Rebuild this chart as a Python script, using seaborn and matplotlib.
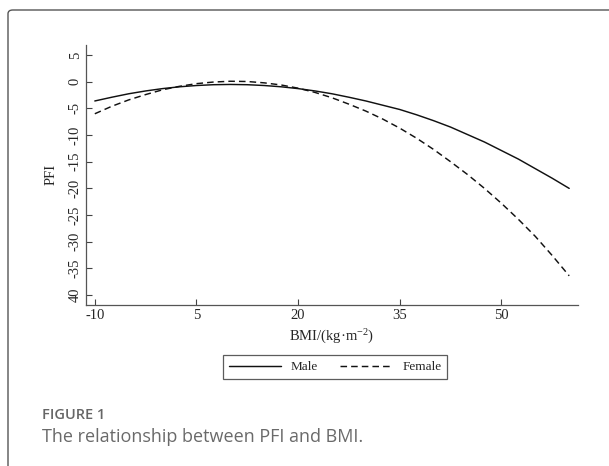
import matplotlib
matplotlib.use("Agg")
import matplotlib.pyplot as plt
from matplotlib.patches import FancyBboxPatch
import seaborn as sns
import pandas as pd

# ---- data ----
bmi = [-10, -7.5, -5, -2.5, 0, 2.5, 5, 7.5, 10, 12.5, 15, 17.5, 20, 22.5, 25, 27.5,
       30, 32.5, 35, 37.5, 40, 42.5, 45, 47.5, 50, 52.5, 55, 57.5, 60]
pfi_male = [-3.6, -2.9, -2.25, -1.72, -1.28, -0.94, -0.7, -0.55, -0.5, -0.55, -0.7, -0.94,
            -1.28, -1.72, -2.25, -2.9, -3.6, -4.4, -5.2, -6.2, -7.3, -8.5, -9.9, -11.3,
            -12.9, -14.5, -16.3, -18.1, -20.0]
pfi_female = [-6.0, -4.6, -3.4, -2.4, -1.5, -0.85, -0.35, -0.05, 0.1, 0.05, -0.2, -0.6,
              -1.2, -2.0, -3.0, -4.2, -5.5, -7.0, -8.7, -10.6, -12.7, -15.0, -17.4, -20.0,
              -22.8, -25.8, -29.0, -32.6, -36.4]
series_names = ["Male", "Female"]
x_ticks = [-10, 5, 20, 35, 50]
y_ticks = [5, 0, -5, -10, -15, -20, -25, -30, -35, -40]
y_tick_labels = ["5", "0", "-5", "-10", "-15", "-20", "-25", "-30", "-35", "40"]
x_label = "BMI/(kg·m$^{-2}$)"
y_label = "PFI"
fig_label = "FIGURE 1"
caption = "The relationship between PFI and BMI."

df = pd.concat([
    pd.DataFrame({"BMI": bmi, "PFI": pfi_male, "Sex": series_names[0]}),
    pd.DataFrame({"BMI": bmi, "PFI": pfi_female, "Sex": series_names[1]}),
])

sns.set_style("white")
plt.rcParams["font.family"] = ["Liberation Serif", "DejaVu Serif"]
plt.rcParams["mathtext.fontset"] = "custom"
plt.rcParams["mathtext.rm"] = "Liberation Serif"
plt.rcParams["mathtext.default"] = "regular"

W, H = 609, 466
fig = plt.figure(figsize=(W / 100, H / 100), dpi=100)
ax = fig.add_axes([86 / W, 1 - 304.6 / H, (578 - 86) / W, (304.6 - 45) / H])

sns.lineplot(data=df, x="BMI", y="PFI", style="Sex", style_order=series_names,
             dashes={"Male": "", "Female": (4.5, 2.8)}, color="#111111",
             linewidth=1.05, ax=ax, legend=True)

ax.set_xlim(-11.3, 61.3)
ax.set_ylim(-41.8, 6.9)
ax.set_xticks(x_ticks)
ax.set_xticklabels([str(t) for t in x_ticks], fontsize=10.5)
ax.set_yticks(y_ticks)
ax.set_yticklabels(y_tick_labels, fontsize=10.5, rotation=90, va="center")
ax.tick_params(axis="both", direction="in", length=4, width=0.8, color="#444444",
               left=True, bottom=True)
ax.tick_params(axis="y", pad=3)
ax.tick_params(axis="x", pad=3)
for s in ["top", "right"]:
    ax.spines[s].set_visible(False)
for s in ["left", "bottom"]:
    ax.spines[s].set_color("#555555")
    ax.spines[s].set_linewidth(0.9)
ax.set_xlabel(x_label, fontsize=10.5, labelpad=4)
ax.set_ylabel(y_label, fontsize=10.5, labelpad=8)

handles, labels = ax.get_legend_handles_labels()
ax.get_legend().remove()
leg = fig.legend(handles, labels, loc="upper center", bbox_to_anchor=(335 / W, 1 - 355 / H),
                 ncol=2, fontsize=9.5, frameon=True, fancybox=False, handlelength=4.0,
                 handletextpad=0.7, columnspacing=1.7, borderpad=0.45, borderaxespad=0)
leg.get_frame().set_edgecolor("#333333")
leg.get_frame().set_linewidth(0.9)
for h in leg.get_lines():
    h.set_linewidth(1.05)

# caption
fig.text(42 / W, 1 - 419 / H, fig_label, fontsize=10.5, color="#666666", fontweight="semibold",
         family=["Open Sans", "DejaVu Sans"], va="baseline", ha="left")
fig.text(42 / W, 1 - 442 / H, caption, fontsize=13, color="#6a6a6a",
         family=["Open Sans", "DejaVu Sans"], va="baseline", ha="left")

# outer frame (open to right and bottom as in the cropped reference)
box = FancyBboxPatch((8 / W, -0.2), 1.2, 1 - 10 / H + 0.2,
                     boxstyle="round,pad=0,rounding_size=0.008",
                     transform=fig.transFigure, fill=False, edgecolor="#555555",
                     linewidth=1.0, clip_on=False)
fig.patches.append(box)

fig.savefig("out.png", dpi=100)
